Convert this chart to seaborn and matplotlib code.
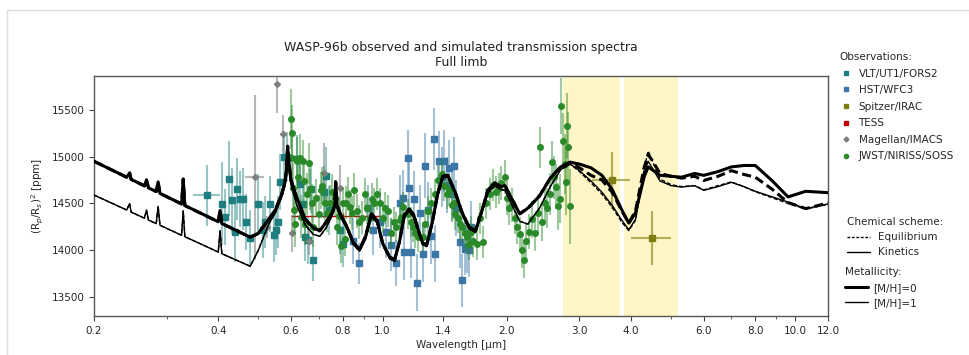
import numpy as np
import pandas as pd
import matplotlib
matplotlib.use('Agg')
import matplotlib.pyplot as plt
import seaborn as sns
from matplotlib.lines import Line2D
from matplotlib.colors import to_rgba
from matplotlib.ticker import FixedLocator, FixedFormatter, LogLocator, NullFormatter

# observations: wavelength [um], depth [ppm], error [ppm]
vlt_wl = [0.375, 0.408, 0.416, 0.424, 0.432, 0.438, 0.445, 0.452, 0.460, 0.467, 0.478,
          0.50, 0.514, 0.52, 0.535, 0.545, 0.553, 0.558, 0.565, 0.578, 0.588,
          0.62, 0.63, 0.64, 0.65, 0.66, 0.67, 0.68, 0.72, 0.73, 0.74, 0.79, 0.80]
vlt_val = [14585, 14497, 14354, 14763, 14532, 14195, 14656, 14550, 14550, 14300, 14127,
           14497, 14213, 14300, 14497, 14160, 14213, 14300, 14727, 14993, 15000,
           14975, 14710, 14497, 14141, 14106, 14656, 13893, 14620, 14798, 14425, 14213, 14071]
vlt_err = [330, 440, 300, 400, 350, 320, 330, 300, 330, 300, 300,
           320, 300, 280, 300, 280, 260, 280, 300, 280, 260,
           260, 280, 260, 250, 250, 260, 220, 280, 300, 260, 250, 250]
vlt_xerr = [0.028] + [0] * 32

hst_wl = [0.85, 0.875, 0.92, 0.95, 0.985, 1.02, 1.05, 1.08, 1.10, 1.12, 1.13, 1.15, 1.16,
          1.17, 1.19, 1.21, 1.23, 1.25, 1.27, 1.29, 1.31, 1.33, 1.34, 1.37, 1.39, 1.41,
          1.43, 1.45, 1.47, 1.49, 1.51, 1.54, 1.56, 1.58, 1.60, 1.62, 1.64]
hst_val = [14100, 13860, 14450, 14213, 14300, 14200, 14060, 13865, 14500, 14560, 13982, 14986, 14667,
           13982, 14550, 13656, 14400, 13965, 14904, 14425, 14150, 15190, 13965, 14957, 14780, 14950,
           14700, 14880, 14600, 14904, 14450, 14088, 13680, 14018, 14035, 14000, 14250]
hst_err = [250, 220, 250, 260, 270, 280, 280, 250, 300, 300, 300, 300, 300,
           280, 300, 300, 300, 300, 350, 300, 300, 330, 300, 320, 320, 330,
           300, 300, 300, 300, 300, 280, 280, 280, 280, 280, 280]

spitzer_wl = [3.6, 4.5]
spitzer_val = [14745, 14130]
spitzer_err = [300, 290]
spitzer_xerr = [0.38, 0.5]

tess_wl = [0.80]
tess_val = [14365]
tess_err = [30]
tess_xerr = [0.2]

magellan_wl = [0.49, 0.525, 0.555, 0.575, 0.605, 0.665, 0.72, 0.79]
magellan_val = [14780, 14250, 15770, 15240, 14180, 14100, 14830, 14660]
magellan_err = [880, 120, 300, 200, 200, 150, 320, 250]
magellan_xerr = [0.025, 0.012, 0.008, 0.012, 0.012, 0.015, 0.01, 0.01]

jwst_wl = [0.600, 0.603, 0.605, 0.608, 0.612, 0.615, 0.620, 0.625, 0.630, 0.636, 0.640, 0.645,
           0.650, 0.656, 0.662, 0.668, 0.675, 0.680, 0.690, 0.700, 0.708, 0.715, 0.725, 0.735,
           0.745, 0.755, 0.765, 0.775, 0.785, 0.792, 0.800, 0.810, 0.815, 0.825, 0.835, 0.845,
           0.855, 0.865, 0.875, 0.890, 0.905, 0.915, 0.930, 0.945, 0.955, 0.970, 0.985, 1.00,
           1.015, 1.03, 1.05, 1.065, 1.08, 1.10, 1.11, 1.12, 1.15, 1.17, 1.185, 1.20, 1.22,
           1.25, 1.27, 1.29, 1.31, 1.34, 1.36, 1.39, 1.41, 1.43, 1.45, 1.47, 1.49, 1.50, 1.52,
           1.54, 1.56, 1.58, 1.60, 1.62, 1.64, 1.66, 1.69, 1.72, 1.75, 1.78, 1.82, 1.85, 1.88,
           1.91, 1.94, 1.98, 2.00, 2.03, 2.06, 2.09, 2.12, 2.15, 2.18, 2.20, 2.23, 2.26, 2.30,
           2.34, 2.38, 2.41, 2.44, 2.47, 2.50, 2.54, 2.57, 2.60, 2.63, 2.66, 2.69, 2.71, 2.74,
           2.76, 2.78, 2.80, 2.82, 2.84]
jwst_val = [15400, 15250, 14980, 14670, 14430, 14280, 14950, 14780, 14990, 14360, 14950, 14740,
            14280, 14600, 14930, 14650, 14500, 14250, 14560, 14390, 14640, 14690, 14500, 14400,
            14510, 14620, 14560, 14250, 14370, 14050, 14500, 14120, 14510, 14600, 14460, 14400,
            14640, 14420, 14300, 14350, 14600, 14450, 14350, 14550, 14500, 14600, 14500, 14350,
            14450, 14420, 14180, 14300, 14250, 14320, 14360, 14460, 14390, 14300, 14250, 14180, 14140,
            14140, 14280, 14420, 14500, 14600, 14750, 14810, 14690, 14600, 14640, 14480, 14500, 14390, 14350,
            14280, 14250, 14180, 14140, 14070, 14200, 14100, 14070, 14340, 14090, 14500, 14600, 14700, 14620,
            14660, 14720, 14780, 14560, 14450, 14480, 14350, 14250, 14170, 14000, 13900, 14100, 14200, 14330,
            14190, 14400, 15100, 14300, 14500, 14450, 14600, 14940, 14780, 14680, 14470, 14550, 15540, 15170,
            14920, 14730, 15330, 15100, 14470]
jwst_err = [320, 300, 280, 260, 250, 240, 260, 240, 250, 230, 230, 230,
            220, 220, 220, 220, 210, 210, 200, 200, 200, 200, 200, 200,
            190, 190, 190, 190, 190, 190, 180, 180, 180, 180, 180, 180,
            180, 180, 180, 180, 170, 170, 170, 170, 170, 170, 170, 170,
            170, 170, 160, 160, 160, 160, 160, 160, 160, 160, 160, 160, 160,
            160, 160, 160, 160, 160, 160, 160, 160, 160, 170, 170, 170, 170, 170,
            170, 170, 170, 170, 170, 170, 170, 170, 170, 170, 170, 170, 170, 170,
            170, 180, 180, 180, 180, 180, 180, 180, 190, 190, 190, 190, 190, 200,
            200, 200, 220, 200, 200, 210, 220, 230, 230, 240, 250, 260, 300, 300,
            320, 350, 350, 380, 400]

# simulated spectra
wl_short = [0.2, 0.24, 0.244, 0.246, 0.25, 0.265, 0.268, 0.271, 0.283, 0.286, 0.289,
            0.326, 0.329, 0.332, 0.336, 0.40, 0.404, 0.408, 0.415, 0.478,
            0.50, 0.53, 0.55, 0.57, 0.58, 0.585, 0.589, 0.593, 0.60,
            0.62, 0.65, 0.68, 0.705, 0.73, 0.755, 0.766, 0.770, 0.776,
            0.79, 0.82, 0.85, 0.88, 0.91, 0.94, 0.97, 1.0, 1.04, 1.07, 1.10, 1.13,
            1.16, 1.19, 1.22, 1.25, 1.28, 1.32, 1.36, 1.40, 1.44, 1.50, 1.56, 1.62,
            1.68, 1.74, 1.80, 1.87, 1.93, 1.98, 2.05, 2.15, 2.25, 2.40, 2.55, 2.70]
mh0_short = [14950, 14780, 14825, 14757, 14742, 14688, 14750, 14667, 14627, 14730, 14607,
             14495, 14760, 14478, 14467, 14305, 14425, 14286, 14271, 14140,
             14180, 14330, 14430, 14600, 14720, 14850, 15110, 14950, 14750,
             14560, 14330, 14240, 14210, 14300, 14400, 14480, 14730, 14480,
             14390, 14250, 14080, 14010, 14150, 14390, 14320, 14080, 13930, 13900, 14100, 14380,
             14440, 14380, 14220, 14080, 14060, 14300, 14600, 14790, 14800, 14620, 14400, 14250,
             14210, 14420, 14640, 14720, 14680, 14690, 14560, 14390, 14450, 14580, 14770, 14890]
mh1_short = [14590, 14430, 14500, 14408, 14394, 14343, 14430, 14323, 14285, 14470, 14267,
             14161, 14420, 14145, 14135, 13982, 14210, 13964, 13950, 13830,
             14000, 14280, 14400, 14570, 14690, 14810, 15060, 14880, 14700,
             14480, 14270, 14170, 14150, 14240, 14370, 14450, 14690, 14450,
             14360, 14230, 14060, 13990, 14120, 14360, 14290, 14060, 13910, 13880, 14080, 14350,
             14420, 14350, 14200, 14060, 14040, 14280, 14580, 14770, 14780, 14600, 14380, 14230,
             14190, 14400, 14610, 14690, 14650, 14640, 14500, 14310, 14280, 14450, 14680, 14860]
wl_long = [2.85, 3.0, 3.2, 3.4, 3.6, 3.8, 3.95, 4.1, 4.3, 4.4, 4.5, 4.7,
           5.0, 5.3, 5.7, 6.0, 6.5, 7.0, 7.5, 8.0, 8.8, 9.6, 10.6, 12.0]
kin_mh0_long = [14940, 14920, 14880, 14800, 14650, 14430, 14290, 14400, 14780, 14890, 14860, 14800,
                14790, 14780, 14820, 14800, 14840, 14890, 14905, 14905, 14740, 14570, 14630, 14615]
eq_mh0_long = [14940, 14880, 14800, 14750, 14620, 14420, 14290, 14420, 14880, 15020, 14960, 14820,
               14790, 14770, 14790, 14745, 14790, 14850, 14810, 14780, 14650, 14510, 14445, 14505]
kin_mh1_long = [14920, 14850, 14740, 14620, 14480, 14320, 14220, 14330, 14820, 14950, 14880, 14740,
                14690, 14675, 14690, 14640, 14680, 14725, 14680, 14630, 14570, 14515, 14445, 14495]
eq_mh1_long = [14920, 14840, 14720, 14600, 14460, 14300, 14210, 14320, 14860, 15060, 14960, 14760,
               14700, 14680, 14690, 14645, 14690, 14730, 14680, 14625, 14560, 14500, 14440, 14490]

tick_vals = [0.2, 0.4, 0.6, 0.8, 1.0, 1.4, 2.0, 3.0, 4.0, 6.0, 8.0, 10.0, 12.0]

# long-form table of the four model spectra
parts = []
for scheme, metal, short, long_ in [('Equilibrium', '[M/H]=0', mh0_short, eq_mh0_long),
                                     ('Kinetics', '[M/H]=0', mh0_short, kin_mh0_long),
                                     ('Equilibrium', '[M/H]=1', mh1_short, eq_mh1_long),
                                     ('Kinetics', '[M/H]=1', mh1_short, kin_mh1_long)]:
    parts.append(pd.DataFrame({'wl': wl_short + wl_long, 'depth': short + long_,
                               'scheme': scheme, 'metal': metal}))
models = pd.concat(parts, ignore_index=True)

sns.set_style('ticks')
plt.rcParams['font.family'] = ['DejaVu Sans']

c_vlt = '#1f7f80'
c_hst = '#3b76a6'
c_spitzer = '#7d7d12'
c_tess = '#c00000'
c_mag = '#7f7f7f'
c_jwst = '#2a8a2a'

fig = plt.figure(figsize=(9.69, 3.55), dpi=100)
ax = fig.add_axes([0.097, 0.110, 0.7575, 0.676])

# faint card edge seen in the screenshot
fig.add_artist(Line2D([7 / 969, 7 / 969], [0, 1 - 10 / 355], transform=fig.transFigure,
                      color='#dddddd', lw=1))
fig.add_artist(Line2D([7 / 969, 1], [1 - 10 / 355, 1 - 10 / 355], transform=fig.transFigure,
                      color='#dddddd', lw=1))

ax.axvspan(2.74, 3.76, color='gold', alpha=0.22, lw=0, zorder=0)
ax.axvspan(3.85, 5.2, color='gold', alpha=0.22, lw=0, zorder=0)


def obs(wl, val, err, color, marker, ms, xerr=None, ealpha=0.45, z=3):
    ax.errorbar(wl, val, yerr=err, xerr=xerr, fmt=marker, ms=ms, color=color, mec=color,
                ecolor=to_rgba(color, ealpha), elinewidth=1.5, capsize=0, zorder=z)


obs(vlt_wl, vlt_val, vlt_err, c_vlt, 's', 4.2, xerr=vlt_xerr)
obs(hst_wl, hst_val, hst_err, c_hst, 's', 4.2)
obs(spitzer_wl, spitzer_val, spitzer_err, c_spitzer, 's', 4.2, xerr=spitzer_xerr, ealpha=0.6)
ax.errorbar(tess_wl, tess_val, yerr=tess_err, xerr=tess_xerr, fmt='none', ecolor=c_tess,
            elinewidth=1.0, ls='--', capsize=0, zorder=2)
obs(magellan_wl, magellan_val, magellan_err, c_mag, 'D', 3, xerr=magellan_xerr, ealpha=0.55)
obs(jwst_wl, jwst_val, jwst_err, c_jwst, 'o', 4, ealpha=0.45, z=4)

sns.lineplot(data=models, x='wl', y='depth', style='scheme', size='metal',
             sizes={'[M/H]=0': 2.2, '[M/H]=1': 1.0},
             dashes={'Equilibrium': (3, 1.5), 'Kinetics': ''},
             color='black', estimator=None, sort=False, legend=False, ax=ax, zorder=10)

ax.set_xscale('log')
ax.set_xlim(0.2, 12.0)
ax.set_ylim(13300, 15860)
ax.xaxis.set_major_locator(FixedLocator(tick_vals))
ax.xaxis.set_major_formatter(FixedFormatter([f'{v:.1f}' for v in tick_vals]))
ax.xaxis.set_minor_locator(LogLocator(base=10, subs=np.arange(1, 10)))
ax.xaxis.set_minor_formatter(NullFormatter())
ax.set_yticks([13500, 14000, 14500, 15000, 15500])
ax.tick_params(axis='both', which='major', labelsize=7.5, length=3.5, width=0.8, color='#444444')
ax.tick_params(axis='x', which='minor', length=2, width=0.6, color='#444444')
for s in ax.spines.values():
    s.set_color('#555555')
    s.set_linewidth(1.0)

ax.set_xlabel('Wavelength [μm]', fontsize=7.5, labelpad=3)
ax.set_ylabel('(R$_p$/R$_s$)$^2$ [ppm]', fontsize=7.5)
ax.set_title('WASP-96b observed and simulated transmission spectra\nFull limb',
             fontsize=9, pad=7, color='#222222')

obs_handles = [Line2D([], [], ls='none', marker='s', ms=3.5, color=c_vlt),
               Line2D([], [], ls='none', marker='s', ms=3.5, color=c_hst),
               Line2D([], [], ls='none', marker='s', ms=3.5, color=c_spitzer),
               Line2D([], [], ls='none', marker='s', ms=3.5, color=c_tess),
               Line2D([], [], ls='none', marker='D', ms=2.5, color=c_mag),
               Line2D([], [], ls='none', marker='o', ms=3, color=c_jwst)]
obs_labels = ['VLT/UT1/FORS2', 'HST/WFC3', 'Spitzer/IRAC', 'TESS', 'Magellan/IMACS', 'JWST/NIRISS/SOSS']
leg1 = fig.legend(obs_handles, obs_labels, title='Observations:', loc='upper left',
                  bbox_to_anchor=(0.857, 0.88), frameon=False, fontsize=7.5, title_fontsize=7.5,
                  alignment='left', handlelength=1.2, handletextpad=0.6, labelspacing=0.63)

chem_handles = [Line2D([], [], color='k', lw=1.0, ls=(0, (2, 1.2))),
                Line2D([], [], color='k', lw=1.0)]
leg2 = fig.legend(chem_handles, ['Equilibrium', 'Kinetics'], title='Chemical scheme:',
                  loc='upper left', bbox_to_anchor=(0.864, 0.415), frameon=False, fontsize=7.5,
                  title_fontsize=7.5, alignment='left', handlelength=2.2, handletextpad=0.8,
                  labelspacing=0.5)

met_handles = [Line2D([], [], color='k', lw=2.2), Line2D([], [], color='k', lw=1.0)]
leg3 = fig.legend(met_handles, ['[M/H]=0', '[M/H]=1'], title='Metallicity:',
                  loc='upper left', bbox_to_anchor=(0.862, 0.273), frameon=False, fontsize=7.5,
                  title_fontsize=7.5, alignment='left', handlelength=2.2, handletextpad=0.5,
                  labelspacing=0.5)

fig.savefig('out.png', dpi=100)
